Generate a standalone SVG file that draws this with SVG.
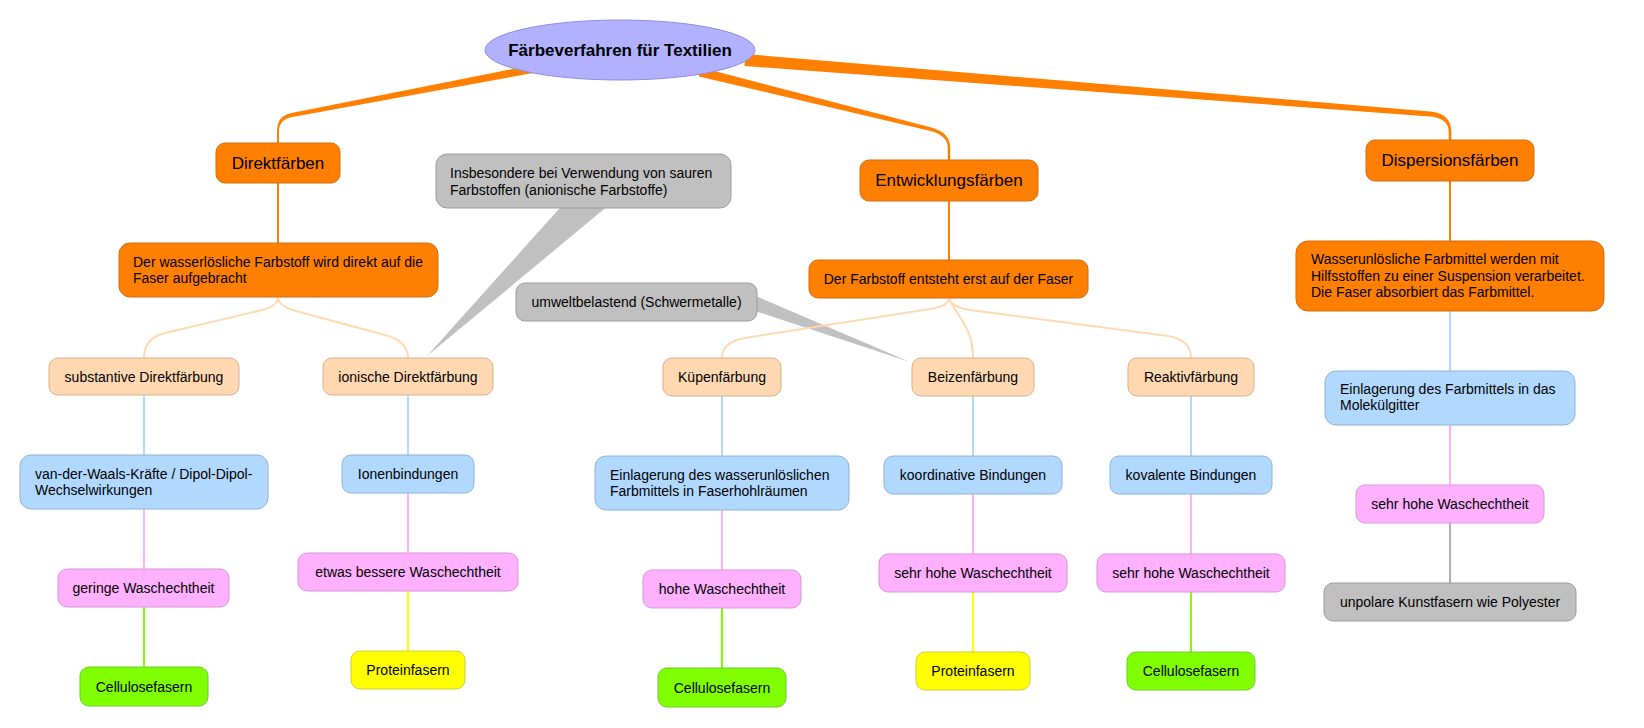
<svg xmlns="http://www.w3.org/2000/svg" width="1644" height="728" viewBox="0 0 1644 728">
<style>
text{font-family:"Liberation Sans",Arial,sans-serif;font-size:14px;fill:#000}
.t{text-anchor:middle}
.big{font-size:17px}
.title{font-size:17px;font-weight:bold;text-anchor:middle}
rect{stroke-width:1}
.or{fill:#ff8000;stroke:#d26c10}
.pe{fill:#ffd8b1;stroke:#d6ae8c}
.bl{fill:#b1d8ff;stroke:#90b2d4}
.pk{fill:#ffb1ff;stroke:#d496d4}
.gr{fill:#80ff00;stroke:#6acb2c}
.ye{fill:#ffff00;stroke:#cccc40}
.gy{fill:#c0c0c0;stroke:#9c9c9c}
.c{fill:none;stroke-width:2}
.co{stroke:#ff8000}
.cp{stroke:#ffd8b1}
.cb{stroke:#b1d8ff}
.ck{stroke:#ffb1ff}
.cg{stroke:#80ff00}
.cy{stroke:#ffff00}
.cz{stroke:#b0b0b0}
</style>
<rect width="1644" height="728" fill="#ffffff"/>
<g id="connectors">
  <path fill="#ff8000" d="M535,64.5 L291.6,113 Q277,115.8 277,131 L277,143 L279,143 L279,131 Q279,119.5 292.4,117 L536,72.5 Z"/>
  <path fill="#ff8000" d="M701.1,67.6 L930.4,127.3 Q950.2,132.3 950.2,148 L950.2,160 L947.8,160 L947.8,148 Q947.8,135.1 929.6,130.7 L698.9,76.4 Z"/>
  <path fill="#ff8000" d="M745.5,54 L1430.2,111.5 Q1451.3,113.2 1451.3,132 L1451.3,141 L1448.7,141 L1448.7,132 Q1448.7,118 1429.8,116.5 L744.5,66 Z"/>
  <path fill="#c0c0c0" d="M427,356 L567,200 L615,200 Z"/>
  <path fill="#c0c0c0" d="M910,362 L745,291.4 L745,307.7 Z"/>
  <path class="c co" d="M278,183 V243"/>
  <path class="c co" d="M949,201 V260"/>
  <path class="c co" d="M1450,181 V241"/>
  <path class="c cp" d="M278,297 Q278,306 262,310 L165,333 Q144,338 144,358"/>
  <path class="c cp" d="M278,297 Q278,306 296,311 L385,335 Q408,341 408,358"/>
  <path class="c cp" d="M949,298 Q949,306 930,309 L745,338 Q722,342 722,358"/>
  <path class="c cp" d="M949,298 C955,315 973,325 973,358"/>
  <path class="c cp" d="M949,298 Q951,307 970,310 L1168,336 Q1191,340 1191,358"/>
  <path class="c cb" d="M144,395 V455"/>
  <path class="c ck" d="M144,509 V569"/>
  <path class="c cg" d="M144,607 V667"/>
  <path class="c cb" d="M408,395 V455"/>
  <path class="c ck" d="M408,493 V553"/>
  <path class="c cy" d="M408,591 V651"/>
  <path class="c cb" d="M722,396 V456"/>
  <path class="c ck" d="M722,510 V570"/>
  <path class="c cg" d="M722,608 V668"/>
  <path class="c cb" d="M973,396 V456"/>
  <path class="c ck" d="M973,494 V554"/>
  <path class="c cy" d="M973,592 V652"/>
  <path class="c cb" d="M1191,396 V456"/>
  <path class="c ck" d="M1191,494 V554"/>
  <path class="c cg" d="M1191,592 V652"/>
  <path class="c cb" d="M1450,311 V371"/>
  <path class="c ck" d="M1450,425 V485"/>
  <path class="c cz" d="M1450,523 V583"/>
</g>
<g id="root">
  <ellipse cx="620" cy="50" rx="135" ry="30" fill="#b1b1ff" stroke="#8e8ed8"/>
  <text class="title" x="620" y="56">Färbeverfahren für Textilien</text>
</g>
<g id="n-direkt"><rect class="or" x="216" y="143" width="124" height="40" rx="9"/><text class="t big" x="278" y="169">Direktfärben</text></g>
<g id="n-entw"><rect class="or" x="860" y="160" width="178" height="41" rx="9"/><text class="t big" x="949" y="186">Entwicklungsfärben</text></g>
<g id="n-disp"><rect class="or" x="1366" y="140" width="168" height="41" rx="9"/><text class="t big" x="1450" y="166">Dispersionsfärben</text></g>
<g id="n-insb"><rect class="gy" x="436" y="154" width="295" height="54" rx="11"/><text x="450" y="178">Insbesondere bei Verwendung von sauren</text><text x="450" y="195">Farbstoffen (anionische Farbstoffe)</text></g>
<g id="n-umwelt"><rect class="gy" x="516" y="283" width="241" height="38" rx="9"/><text class="t" x="636.5" y="307">umweltbelastend (Schwermetalle)</text></g>
<g id="n-wasserl"><rect class="or" x="119" y="243" width="319" height="54" rx="11"/><text x="133" y="267">Der wasserlösliche Farbstoff wird direkt auf die</text><text x="133" y="283">Faser aufgebracht</text></g>
<g id="n-entsteht"><rect class="or" x="809" y="260" width="279" height="38" rx="9"/><text class="t" x="948.5" y="284">Der Farbstoff entsteht erst auf der Faser</text></g>
<g id="n-wasserunl"><rect class="or" x="1296" y="241" width="308" height="70" rx="12"/><text x="1311" y="264">Wasserunlösliche Farbmittel werden mit</text><text x="1311" y="281">Hilfsstoffen zu einer Suspension verarbeitet.</text><text x="1311" y="297">Die Faser absorbiert das Farbmittel.</text></g>
<g id="n-subst"><rect class="pe" x="49" y="358" width="190" height="37" rx="9"/><text class="t" x="144" y="382">substantive Direktfärbung</text></g>
<g id="n-ion"><rect class="pe" x="323" y="358" width="170" height="37" rx="9"/><text class="t" x="408" y="382">ionische Direktfärbung</text></g>
<g id="n-kuepen"><rect class="pe" x="663" y="358" width="118" height="38" rx="9"/><text class="t" x="722" y="382">Küpenfärbung</text></g>
<g id="n-beizen"><rect class="pe" x="912" y="358" width="122" height="38" rx="9"/><text class="t" x="973" y="382">Beizenfärbung</text></g>
<g id="n-reaktiv"><rect class="pe" x="1128" y="358" width="126" height="38" rx="9"/><text class="t" x="1191" y="382">Reaktivfärbung</text></g>
<g id="n-vdw"><rect class="bl" x="20" y="455" width="248" height="54" rx="11"/><text x="35" y="479">van-der-Waals-Kräfte / Dipol-Dipol-</text><text x="35" y="495">Wechselwirkungen</text></g>
<g id="n-ionenb"><rect class="bl" x="342" y="455" width="132" height="38" rx="9"/><text class="t" x="408" y="479">Ionenbindungen</text></g>
<g id="n-einl1"><rect class="bl" x="595" y="456" width="254" height="54" rx="11"/><text x="610" y="480">Einlagerung des wasserunlöslichen</text><text x="610" y="496">Farbmittels in Faserhohlräumen</text></g>
<g id="n-koord"><rect class="bl" x="884" y="456" width="178" height="38" rx="9"/><text class="t" x="973" y="480">koordinative Bindungen</text></g>
<g id="n-koval"><rect class="bl" x="1110" y="456" width="162" height="38" rx="9"/><text class="t" x="1191" y="480">kovalente Bindungen</text></g>
<g id="n-einl2"><rect class="bl" x="1325" y="371" width="250" height="54" rx="11"/><text x="1340" y="394">Einlagerung des Farbmittels in das</text><text x="1340" y="410">Molekülgitter</text></g>
<g id="n-gering"><rect class="pk" x="58" y="569" width="171" height="38" rx="9"/><text class="t" x="143.5" y="593">geringe Waschechtheit</text></g>
<g id="n-etwas"><rect class="pk" x="298" y="553" width="220" height="38" rx="9"/><text class="t" x="408" y="577">etwas bessere Waschechtheit</text></g>
<g id="n-hohe"><rect class="pk" x="643" y="570" width="158" height="38" rx="9"/><text class="t" x="722" y="594">hohe Waschechtheit</text></g>
<g id="n-sehr1"><rect class="pk" x="879" y="554" width="188" height="38" rx="9"/><text class="t" x="973" y="578">sehr hohe Waschechtheit</text></g>
<g id="n-sehr2"><rect class="pk" x="1097" y="554" width="188" height="38" rx="9"/><text class="t" x="1191" y="578">sehr hohe Waschechtheit</text></g>
<g id="n-sehr3"><rect class="pk" x="1356" y="485" width="188" height="38" rx="9"/><text class="t" x="1450" y="509">sehr hohe Waschechtheit</text></g>
<g id="n-cell1"><rect class="gr" x="80" y="667" width="128" height="39" rx="9"/><text class="t" x="144" y="692">Cellulosefasern</text></g>
<g id="n-prot1"><rect class="ye" x="351" y="651" width="114" height="38" rx="9"/><text class="t" x="408" y="675">Proteinfasern</text></g>
<g id="n-cell2"><rect class="gr" x="658" y="668" width="128" height="39" rx="9"/><text class="t" x="722" y="693">Cellulosefasern</text></g>
<g id="n-prot2"><rect class="ye" x="916" y="652" width="114" height="38" rx="9"/><text class="t" x="973" y="676">Proteinfasern</text></g>
<g id="n-cell3"><rect class="gr" x="1127" y="652" width="128" height="38" rx="9"/><text class="t" x="1191" y="676">Cellulosefasern</text></g>
<g id="n-unpolar"><rect class="gy" x="1324" y="583" width="252" height="38" rx="9"/><text class="t" x="1450" y="607">unpolare Kunstfasern wie Polyester</text></g>
</svg>
